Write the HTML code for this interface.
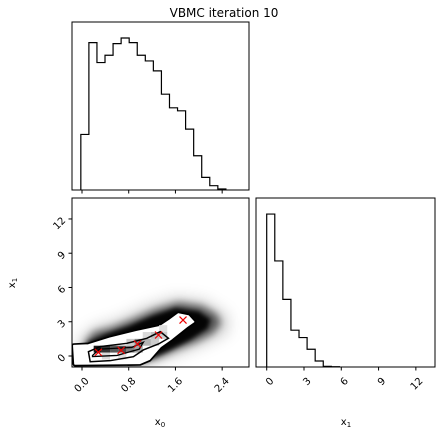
<!DOCTYPE html>
<html><head><meta charset="utf-8">
<style>
html,body{margin:0;padding:0;background:#fff;}
svg{display:block;font-family:"DejaVu Sans","Liberation Sans",sans-serif;}
</style></head>
<body>
<svg id="fig" width="442" height="436" viewBox="0 0 442 436" xmlns="http://www.w3.org/2000/svg">
<defs>
<filter id="blur0" x="-30%" y="-30%" width="160%" height="160%"><feGaussianBlur stdDeviation="7"/></filter>
<filter id="blur1" x="-20%" y="-20%" width="140%" height="140%"><feGaussianBlur stdDeviation="4"/></filter>
<filter id="blur2" x="-20%" y="-20%" width="140%" height="140%"><feGaussianBlur stdDeviation="2"/></filter>
<clipPath id="clipS"><rect x="72" y="198" width="177" height="169"/></clipPath>
</defs>
<text x="224" y="17" text-anchor="middle" font-size="12" fill="#000">VBMC iteration 10</text>
<g id="g"></g>
</svg>
<script>
// ---- data ----
const x0Edges0 = -0.02, x0BinW = 0.138;
const x0Counts = [167,443,383,405,440,457,443,405,388,358,288,247,238,183,103,38,13,3];
const x1Edges0 = 0, x1BinW = 0.65;
const x1Counts = [457,317,202,110,88,53,18,2,1];
const x0Ticks = [0.0,0.8,1.6,2.4];
const x0TickLabels = ["0.0","0.8","1.6","2.4"];
const x1Ticks = [0,3,6,9,12];
const x1TickLabels = ["0","3","6","9","12"];
const modesX = [0.28,0.67,0.95,1.31,1.73];
const modesY = [0.32,0.5,1.05,1.84,3.15];
const hazeX = [-0.05,0.4,1.0,1.6,2.1,2.5,2.5,2.1,1.6,1.1,0.6,0.2,-0.05];
const hazeY = [-0.8,-0.9,-0.8,0.0,1.0,2.0,3.6,4.9,5.2,4.4,3.2,2.6,1.5];
const cloudX = [0.02,0.4,0.9,1.3,1.6,1.95,2.25,2.38,2.3,2.05,1.65,1.25,0.85,0.5,0.2,0.05];
const cloudY = [-0.75,-0.8,-0.7,-0.2,0.5,1.2,2.0,2.9,3.7,4.4,4.7,4.1,3.2,2.5,2.1,1.2];
const coreX = [0.05,0.6,1.1,1.5,1.85,2.15,2.2,2.0,1.6,1.2,0.8,0.4,0.1];
const coreY = [-0.6,-0.7,-0.4,0.5,1.4,2.4,3.2,3.9,4.2,3.5,2.6,1.9,1.2];
const outerX = [-0.14,0.11,0.48,0.94,1.34,1.51,1.65,1.82,1.91,1.79,1.54,1.34,1.15,0.99,-0.12];
const outerY = [0.9,0.96,1.55,2.13,2.57,3.15,3.68,3.5,3.0,2.57,1.55,0.82,-0.29,-0.64,-0.7];
const innerX = [0.11,0.31,0.77,1.11,1.34,1.48,1.31,1.05,0.88,0.48,0.14];
const innerY = [0.38,0.82,1.11,1.55,2.13,1.55,1.05,0.53,-0.06,-0.41,-0.5];
const innermostX = [0.18,0.3,0.85,1.05,0.98,0.6,0.18];
const innermostY = [0.05,0.6,0.75,1.2,0.6,0.05,-0.05];
const cellX = [0.2,0.34,0.48,0.62,0.76,0.9,0.9,1.04,1.18,1.18,1.32,1.32,0.34,0.62,0.76,1.04];
const cellY = [0.3,0.3,0.3,0.3,0.3,0.9,0.3,0.9,1.5,0.9,1.5,2.1,-0.3,-0.3,0.9,1.5];
const cellV = [0.9,0.8,0.65,0.7,0.5,0.45,0.35,0.3,0.25,0.2,0.2,0.12,0.15,0.12,0.2,0.15];

// ---- scales ----
const ax = {L:72,R:249,T1:22,B1:190,T2:198,B2:367,L2:256,R2:435};
const sx0 = v => 82 + v*58.4;
const sy1 = v => 356 - v*11.42;
const sx1 = v => 266.7 + v*12.43;
const histMax = 505;
const shTop = c => ax.B1 - c/histMax*(ax.B1-ax.T1);
const shRight = c => ax.B2 - c/histMax*(ax.B2-ax.T2);

const NS="http://www.w3.org/2000/svg";
const g=document.getElementById('g');
function mk(tag,attrs,parent){const e=document.createElementNS(NS,tag);for(const k in attrs)e.setAttribute(k,attrs[k]);(parent||g).appendChild(e);return e;}
function stepPath(e0,w,counts,sx,sy,base){
  let d=`M${sx(e0)},${base}`;
  counts.forEach((c,i)=>{d+=` L${sx(e0+i*w)},${sy(c)} L${sx(e0+(i+1)*w)},${sy(c)}`;});
  d+=` L${sx(e0+counts.length*w)},${base}`;return d;
}
function poly(xs,ys){return xs.map((x,i)=>`${sx0(x)},${sy1(ys[i])}`).join(' ');}

// top-left histogram
let p=mk('path',{d:stepPath(x0Edges0,x0BinW,x0Counts,sx0,shTop,ax.B1),fill:'none',stroke:'#000','stroke-width':1.2});


let r=mk('rect',{x:ax.L,y:ax.T1,width:ax.R-ax.L,height:ax.B1-ax.T1,fill:'none',stroke:'#000','stroke-width':1});


x0Ticks.forEach(t=>{const l=mk('line',{x1:sx0(t),x2:sx0(t),y1:ax.B1,y2:ax.B1+3.5,stroke:'#000'});

});

// scatter panel
const sg=mk('g',{'clip-path':'url(#clipS)'});


let c0=mk('polygon',{points:poly(hazeX,hazeY),fill:'#000','fill-opacity':0.18,filter:'url(#blur0)'},sg);


let c1=mk('polygon',{points:poly(cloudX,cloudY),fill:'#000','fill-opacity':0.6,filter:'url(#blur1)'},sg);


let c2=mk('polygon',{points:poly(coreX,coreY),fill:'#000','fill-opacity':0.95,filter:'url(#blur2)'},sg);


let o=mk('polygon',{points:poly(outerX,outerY),fill:'#fff',stroke:'#000','stroke-width':5,'stroke-linejoin':'round'},sg);


let o2=mk('polygon',{points:poly(outerX,outerY),fill:'#fff',stroke:'#fff','stroke-width':1.6,'stroke-linejoin':'round'},sg);


cellX.forEach((cx,i)=>{const v=Math.round(255*(1-cellV[i]));
 const c=mk('rect',{x:sx0(cx),y:sy1(cellY[i]+0.6),width:sx0(cx+0.14)-sx0(cx),height:sy1(cellY[i])-sy1(cellY[i]+0.6),fill:`rgb(${v},${v},${v})`},sg);
 
 });
let ic=mk('polygon',{points:poly(innerX,innerY),fill:'none',stroke:'#000','stroke-width':1.5},sg);


let ic2=mk('polygon',{points:poly(innermostX,innermostY),fill:'none',stroke:'#000','stroke-width':1.3},sg);


modesX.forEach((mx,i)=>{const X=sx0(mx),Y=sy1(modesY[i]);
 const m=mk('path',{d:`M${X-3.5},${Y-3.5}L${X+3.5},${Y+3.5}M${X-3.5},${Y+3.5}L${X+3.5},${Y-3.5}`,stroke:'#e00','stroke-width':1.2},sg);
 
 });
r=mk('rect',{x:ax.L,y:ax.T2,width:ax.R-ax.L,height:ax.B2-ax.T2,fill:'none',stroke:'#000','stroke-width':1});


x0Ticks.forEach((t,i)=>{const l=mk('line',{x1:sx0(t),x2:sx0(t),y1:ax.B2,y2:ax.B2+3.5,stroke:'#000'});
 
 
 const tx=mk('text',{x:sx0(t)+3,y:ax.B2+10,'font-size':10,'text-anchor':'end',transform:`rotate(-45 ${sx0(t)+3} ${ax.B2+10})`,'dominant-baseline':'hanging'});
 tx.textContent=x0TickLabels[i];
 
 });
x1Ticks.forEach((t,i)=>{const l=mk('line',{x1:ax.L-3.5,x2:ax.L,y1:sy1(t),y2:sy1(t),stroke:'#000'});
 
 
 const X=ax.L-8,Y=sy1(t);
 const tx=mk('text',{x:X,y:Y+3,'font-size':10,'text-anchor':'end',transform:`rotate(-45 ${X} ${Y})`});
 tx.textContent=x1TickLabels[i];
 
 });

// right histogram
p=mk('path',{d:stepPath(x1Edges0,x1BinW,x1Counts,sx1,shRight,ax.B2),fill:'none',stroke:'#000','stroke-width':1.2});


r=mk('rect',{x:ax.L2,y:ax.T2,width:ax.R2-ax.L2,height:ax.B2-ax.T2,fill:'none',stroke:'#000','stroke-width':1});


x1Ticks.forEach((t,i)=>{const l=mk('line',{x1:sx1(t),x2:sx1(t),y1:ax.B2,y2:ax.B2+3.5,stroke:'#000'});
 
 
 const tx=mk('text',{x:sx1(t)+3,y:ax.B2+10,'font-size':10,'text-anchor':'end',transform:`rotate(-45 ${sx1(t)+3} ${ax.B2+10})`,'dominant-baseline':'hanging'});
 tx.textContent=x1TickLabels[i];
 
 });

// axis labels
function label(x,y,name,rot){
 const t=mk('text',{x:x,y:y,'font-size':10,'text-anchor':'middle',transform:rot?`rotate(-90 ${x} ${y})`:''});
 t.innerHTML='x<tspan font-size="7" dy="2">'+name+'</tspan>';
 return t;}
let l1=label(160,425,'0',false);


let l2=label(346,425,'1',false);


let l3=label(15,283,'1',true);


</script>
</body></html>
